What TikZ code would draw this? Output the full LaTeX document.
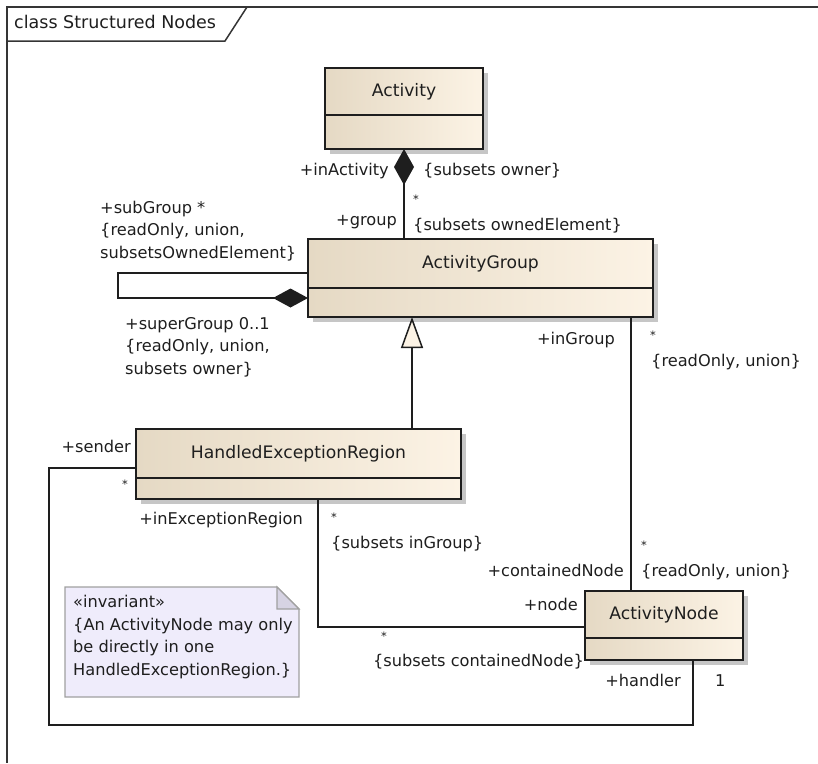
\documentclass[tikz,border=0pt]{standalone}
\usepackage{fontspec}
\setmainfont{DejaVu Sans}
\usetikzlibrary{positioning,arrows.meta,shadows}
\definecolor{clsleft}{HTML}{E5D9C4}
\definecolor{clsright}{HTML}{FCF3E5}
\definecolor{notefill}{HTML}{EFECFB}
\definecolor{notefold}{HTML}{D6D3E3}
\definecolor{noteline}{HTML}{A0A0A0}
\definecolor{shadowgray}{HTML}{C6C6C6}
\definecolor{ink}{HTML}{1E1E1E}

\begin{document}
\begin{tikzpicture}[x=1pt,y=-1pt,
    cls/.style={draw=ink, line width=1.6pt, left color=clsleft, right color=clsright,
      drop shadow={shadow xshift=5pt, shadow yshift=-5pt, fill=shadowgray, opacity=1},
      inner sep=0pt, outer sep=0pt, text=ink, font=\fontsize{17.2}{20}\selectfont},
    lbl/.style={inner sep=0pt, text=ink, font=\fontsize{16.2}{22.5}\selectfont,
      text height=11.5pt, text depth=3.5pt},
    lbls/.style={inner sep=0pt, text=ink, font=\fontsize{16.2}{22.5}\selectfont, align=left},
    mult/.style={inner sep=0pt, text=ink, font=\fontsize{11.5}{13}\selectfont},
    link/.style={draw=ink, line width=1.5pt},
    comp/.style={link, -{Diamond[length=36pt, width=20pt]}},
    hcomp/.style={link, -{Diamond[length=35pt, width=19pt]}},
    gen/.style={link, -{Triangle[length=31pt, width=22pt, fill=clsright]}},
    frame/.style={draw=ink!90, line width=1.5pt}]

  \useasboundingbox (0,0) rectangle (818,763);

  \draw[frame] (818,7) -- (7,7) -- (7,763);
  \draw[frame] (7,41) -- (225,41) -- (247,7);
  \node[lbl, anchor=west, font=\fontsize{17.5}{20}\selectfont] (title) at (14,24) {class Structured Nodes};

  \node[cls, minimum width=158pt, minimum height=47pt] (act) at (404,91.5) {Activity};
  \node[cls, minimum width=158pt, minimum height=34pt, below=0pt of act] (actA) {};
  \node[cls, minimum width=345pt, minimum height=49pt] (ag) at (480.5,263.5) {ActivityGroup};
  \node[cls, minimum width=345pt, minimum height=29pt, below=0pt of ag] (agA) {};
  \node[cls, minimum width=325pt, minimum height=49pt] (her) at (298.5,453.5) {HandledExceptionRegion};
  \node[cls, minimum width=325pt, minimum height=21pt, below=0pt of her] (herA) {};
  \node[cls, minimum width=158pt, minimum height=47pt] (an) at (664,614.5) {ActivityNode};
  \node[cls, minimum width=158pt, minimum height=22pt, below=0pt of an] (anA) {};

  \coordinate (loop) at (118,298);
  \coordinate (bend) at (49,725);

  \draw[comp] (ag.north -| act.south) -- (actA.south);
  \draw[hcomp] (ag.west |- 0,273) -| (loop) -- (agA.west |- loop);
  \draw[gen] (her.north -| 412,0) -- (agA.south -| 412,0);
  \draw[link] (agA.south -| 631,0) -- (an.north -| 631,0);
  \draw[link] (herA.south -| 318,0) |- (an.west |- 0,627);
  \draw[link] (her.west |- 0,468) -| (bend) -| (anA.south -| 693,0);

  \draw[noteline, line width=1.2pt, fill=notefill] (65,587) -- (277,587) -- (299,609) -- (299,697) -- (65,697) -- cycle;
  \draw[noteline, line width=1.2pt, fill=notefold] (277,587) -- (277,609) -- (299,609) -- cycle;
  \node[lbls, anchor=west] (inv) at (73,637) {«invariant»\\\{An ActivityNode may only\\be directly in one\\HandledExceptionRegion.\}};

  \node[lbl, anchor=east] (inact) at (389,171) {+inActivity};
  \node[lbl, anchor=west] (ownr) at (423,171) {\{subsets owner\}};
  \node[mult, anchor=west] (grpm) at (413,199) {*};
  \node[lbl, anchor=east] (grp) at (397,221) {+group};
  \node[lbl, anchor=west] (ownd) at (413,226) {\{subsets ownedElement\}};
  \node[lbls, anchor=west] (sub) at (100,231) {+subGroup *\\\{readOnly, union,\\subsetsOwnedElement\}};
  \node[lbls, anchor=west] (sup) at (125,347) {+superGroup 0..1\\\{readOnly, union,\\subsets owner\}};
  \node[lbl, anchor=east] (ingrp) at (615,340) {+inGroup};
  \node[mult, anchor=west] (ingrpm) at (650,335) {*};
  \node[lbl, anchor=west] (ingrpc) at (651,362) {\{readOnly, union\}};
  \node[lbl, anchor=east] (sndr) at (131,448) {+sender};
  \node[mult, anchor=west] (sndrm) at (122,484) {*};
  \node[lbl, anchor=east] (inexc) at (303,520) {+inExceptionRegion};
  \node[mult, anchor=west] (inexcm) at (331,517) {*};
  \node[lbl, anchor=west] (inexcc) at (331,544) {\{subsets inGroup\}};
  \node[mult, anchor=west] (contm) at (641,545) {*};
  \node[lbl, anchor=east] (cont) at (624,572) {+containedNode};
  \node[lbl, anchor=west] (contc) at (641,572) {\{readOnly, union\}};
  \node[lbl, anchor=east] (nd) at (578,606) {+node};
  \node[mult, anchor=west] (ndm) at (381,636) {*};
  \node[lbl, anchor=east] (ndc) at (584,662) {\{subsets containedNode\}};
  \node[lbl, anchor=east] (hdlr) at (681,682) {+handler};
  \node[lbl, anchor=west] (hdlrm) at (715,682) {1};

\end{tikzpicture}
\end{document}
